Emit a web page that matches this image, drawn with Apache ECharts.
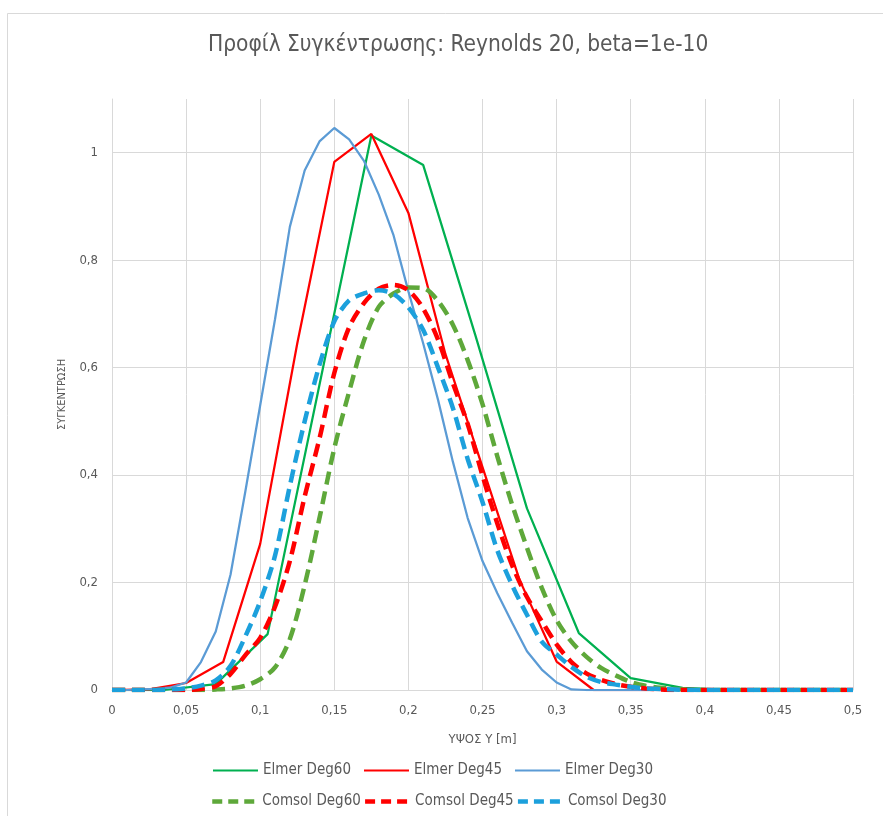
<!DOCTYPE html>
<html>
<head>
<meta charset="utf-8">
<script src="https://cdn.jsdelivr.net/npm/echarts@6/dist/echarts.min.js"></script>
<style>
html,body{margin:0;padding:0;background:#fff;}
#chart{width:883px;height:816px;}
</style>
</head>
<body>
<div id="chart"></div>
<script>
// ---- data ----
const xTicks = [0, 0.05, 0.1, 0.15, 0.2, 0.25, 0.3, 0.35, 0.4, 0.45, 0.5];
const yTicks = [0, 0.2, 0.4, 0.6, 0.8, 1];

const xElmer60 = [0, 0.035, 0.07, 0.105, 0.14, 0.175, 0.21, 0.245, 0.28, 0.315, 0.35, 0.385, 0.42, 0.455, 0.49];
const yElmer60 = [0, 0, 0.011, 0.104, 0.568, 1.032, 0.977, 0.662, 0.338, 0.106, 0.022, 0.004, 0, 0, 0];

const xElmer45 = [0, 0.025, 0.05, 0.075, 0.1, 0.125, 0.15, 0.175, 0.2, 0.225, 0.25, 0.275, 0.3, 0.325, 0.35, 0.375, 0.4, 0.425, 0.45, 0.475, 0.5];
const yElmer45 = [0, 0.001, 0.013, 0.052, 0.272, 0.645, 0.983, 1.035, 0.888, 0.625, 0.415, 0.205, 0.053, 0, 0, 0, 0, 0, 0, 0, 0];

const xStep01 = [0, 0.01, 0.02, 0.03, 0.04, 0.05, 0.06, 0.07, 0.08, 0.09,
  0.1, 0.11, 0.12, 0.13, 0.14, 0.15, 0.16, 0.17, 0.18, 0.19,
  0.2, 0.21, 0.22, 0.23, 0.24, 0.25, 0.26, 0.27, 0.28, 0.29,
  0.3, 0.31, 0.32, 0.33, 0.34, 0.35, 0.36, 0.37, 0.38, 0.39,
  0.4, 0.41, 0.42, 0.43, 0.44, 0.45, 0.46, 0.47, 0.48, 0.49, 0.5];

const yElmer30 = [0, 0, 0.001, 0.002, 0.005, 0.014, 0.052, 0.109, 0.215, 0.37,
  0.53, 0.69, 0.862, 0.967, 1.021, 1.046, 1.025, 0.985, 0.922, 0.846,
  0.742, 0.645, 0.54, 0.425, 0.32, 0.24, 0.18, 0.125, 0.072, 0.038,
  0.014, 0.001, 0, 0, 0, 0, 0, 0, 0, 0,
  0, 0, 0, 0, 0, 0, 0, 0, 0, 0, 0];

const yComsol60 = [0, 0, 0, 0, 0, 0, 0, 0.001, 0.003, 0.008,
  0.02, 0.042, 0.095, 0.195, 0.32, 0.45, 0.555, 0.65, 0.713, 0.738,
  0.749, 0.748, 0.724, 0.68, 0.614, 0.532, 0.435, 0.345, 0.265, 0.19,
  0.13, 0.09, 0.062, 0.041, 0.027, 0.015, 0.008, 0.004, 0.002, 0.001,
  0, 0, 0, 0, 0, 0, 0, 0, 0, 0, 0];

const yComsol45 = [0, 0, 0, 0, 0, 0, 0.002, 0.007, 0.03, 0.065,
  0.097, 0.155, 0.24, 0.36, 0.468, 0.59, 0.675, 0.72, 0.747, 0.754,
  0.744, 0.71, 0.652, 0.571, 0.495, 0.399, 0.31, 0.232, 0.173, 0.128,
  0.085, 0.052, 0.031, 0.019, 0.011, 0.006, 0.003, 0.001, 0, 0,
  0, 0, 0, 0, 0, 0, 0, 0, 0, 0, 0];

const yComsol30 = [0, 0, 0, 0, 0.001, 0.003, 0.008, 0.018, 0.045, 0.1,
  0.165, 0.25, 0.38, 0.5, 0.605, 0.686, 0.725, 0.738, 0.744, 0.737,
  0.712, 0.67, 0.6, 0.525, 0.43, 0.35, 0.26, 0.195, 0.14, 0.09,
  0.066, 0.043, 0.025, 0.015, 0.01, 0.006, 0.003, 0.002, 0.001, 0,
  0, 0, 0, 0, 0, 0, 0, 0, 0, 0, 0];

const seriesNames = ['Elmer Deg60', 'Elmer Deg45', 'Elmer Deg30', 'Comsol Deg60', 'Comsol Deg45', 'Comsol Deg30'];
const titleText = 'Προφίλ Συγκέντρωσης: Reynolds 20, beta=1e-10';
const xName = 'ΥΨΟΣ Υ [m]';
const yName = 'ΣΥΓΚΕΝΤΡΩΣΗ';

// ---- build ----
function pairs(xs, ys) { return xs.map((x, i) => [x, ys[i]]); }
function fmt(v) { return String(Math.round(v * 100) / 100).replace('.', ','); }

const FONT = "'DejaVu Sans Condensed', 'Liberation Sans', sans-serif";
const TXT = '#595959';
const DASH = [13, 7];

const solid = (name, color, xs, ys) => ({
  name, type: 'line', data: pairs(xs, ys), showSymbol: false, symbol: 'none',
  lineStyle: { color, width: 2.25 }, itemStyle: { color }, z: 2
});
const dashed = (name, color, xs, ys) => ({
  name, type: 'line', data: pairs(xs, ys), showSymbol: false, symbol: 'none', smooth: 0.3,
  lineStyle: { color, width: 4.5, type: DASH }, itemStyle: { color }, z: 3
});

const chart = echarts.init(document.getElementById('chart'), null, { renderer: 'canvas' });
chart.setOption({
  animation: false,
  backgroundColor: '#fff',
  textStyle: { fontFamily: FONT, color: TXT },
  graphic: [{
    type: 'rect', shape: { x: 7.5, y: 13.5, width: 880, height: 830 },
    style: { fill: 'none', stroke: '#d9d9d9', lineWidth: 1 }, silent: true, z: -10
  }],
  title: {
    text: titleText, left: 203, top: 29,
    textStyle: { fontFamily: FONT, fontSize: 22.5, fontWeight: 'normal', color: TXT }
  },
  grid: { left: 112, right: 30, top: 99, bottom: 126 },
  xAxis: {
    type: 'value', min: 0, max: 0.5, interval: 0.05,
    name: xName, nameLocation: 'middle', nameGap: 43,
    nameTextStyle: { fontFamily: FONT, fontSize: 13, color: TXT },
    axisLine: { show: true, lineStyle: { color: '#d9d9d9', width: 1 } },
    axisTick: { show: false },
    axisLabel: { formatter: fmt, fontFamily: FONT, fontSize: 13, color: TXT, margin: 14 },
    splitLine: { show: true, lineStyle: { color: '#d9d9d9', width: 1 } }
  },
  yAxis: {
    type: 'value', min: 0, max: 1.1, interval: 0.2,
    name: yName, nameLocation: 'middle', nameGap: 44, nameRotate: 90,
    nameTextStyle: { fontFamily: FONT, fontSize: 11, color: TXT },
    axisLine: { show: true, lineStyle: { color: '#d9d9d9', width: 1 } },
    axisTick: { show: false },
    axisLabel: { formatter: v => (Math.abs(v * 5 - Math.round(v * 5)) < 1e-6 ? fmt(v) : ''), showMaxLabel: false, fontFamily: FONT, fontSize: 13, color: TXT, margin: 14 },
    splitLine: { show: true, lineStyle: { color: ['#d9d9d9', '#d9d9d9', '#d9d9d9', '#d9d9d9', '#d9d9d9', '#d9d9d9', 'rgba(0,0,0,0)'], width: 1 } }
  },
  legend: [
    { data: seriesNames.slice(0, 3), left: 208, top: 758, itemWidth: 45, itemHeight: 14, itemGap: 13,
      textStyle: { fontFamily: FONT, fontSize: 15, color: TXT }, icon: 'path://M0,6 L45,6 L45,8 L0,8 Z' },
    { data: seriesNames.slice(3), left: 205, top: 789, itemWidth: 45, itemHeight: 14, itemGap: 2,
      textStyle: { fontFamily: FONT, fontSize: 15, color: TXT },
      itemStyle: { opacity: 0 }, lineStyle: { width: 4.5, type: [10, 6] } }
  ],
  series: [
    solid(seriesNames[0], '#00b050', xElmer60, yElmer60),
    solid(seriesNames[1], '#ff0000', xElmer45, yElmer45),
    solid(seriesNames[2], '#5b9bd5', xStep01, yElmer30),
    dashed(seriesNames[3], '#5ea83a', xStep01, yComsol60),
    dashed(seriesNames[4], '#ff0000', xStep01, yComsol45),
    dashed(seriesNames[5], '#1ca0dc', xStep01, yComsol30)
  ]
});
</script>
</body>
</html>
